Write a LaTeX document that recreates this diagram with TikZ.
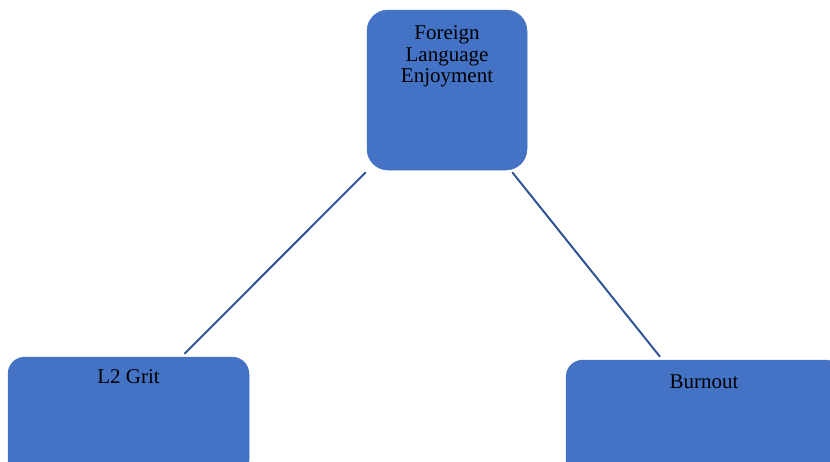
\documentclass[tikz,border=0pt]{standalone}
\usepackage{fontspec}
\setmainfont{Liberation Serif}
\usetikzlibrary{positioning,calc}
\definecolor{boxblue}{HTML}{4472C4}
\definecolor{lineblue}{HTML}{2F5597}

\begin{document}
\begin{tikzpicture}[x=1pt,y=-1pt,
    box/.style={draw=boxblue, fill=boxblue, inner sep=0pt, line width=0.5pt},
    boxtext/.style={anchor=base, align=center, inner sep=0pt, text=black,
      font=\fontsize{21}{21.5}\selectfont},
    link/.style={draw=lineblue, line width=2pt}]
    \useasboundingbox (0,0) rectangle (830,461);

    % Top box
    \node[box, rounded corners=21pt, minimum width=160pt, minimum height=160pt] (fle) at (447,90) {};
    \node[boxtext] (fletext) at ($(fle.north)+(0,73)$) {Foreign\\Language\\Enjoyment};

    % Bottom boxes
    \node[box, rounded corners=17pt, minimum width=241pt, minimum height=120pt] (grit) at (128.5,417) {};
    \node[boxtext] (grittext) at ($(grit.north)+(0,27)$) {L2 Grit};
    \node[box, rounded corners=17pt, minimum width=276pt, minimum height=120pt] (burn) at (704,420) {};
    \node[boxtext] (burntext) at ($(burn.north)+(0,29)$) {Burnout};

    % Links
    \draw[link] ($(fle.south west)+(-1,2)$) -- ($(grit.north)+(56,-3)$);
    \draw[link] ($(fle.south east)+(-15,2)$) -- ($(burn.north)+(-44,-3)$);
\end{tikzpicture}
\end{document}
